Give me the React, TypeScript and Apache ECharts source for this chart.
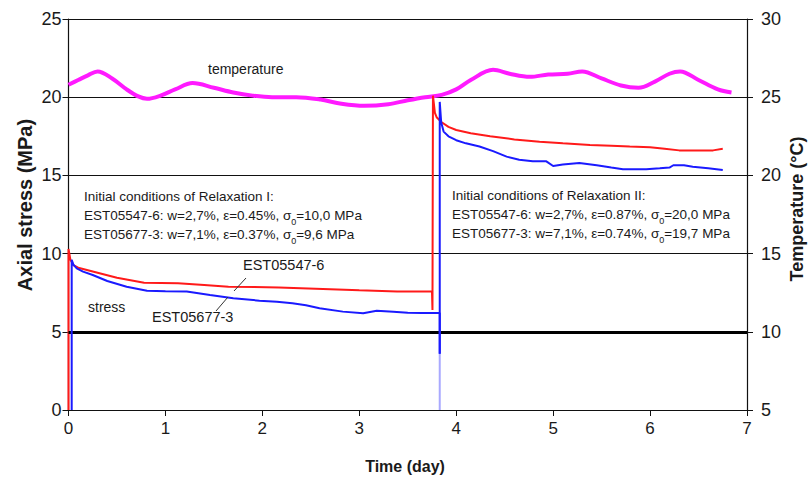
import React, { useEffect, useRef } from "react";
import * as echarts from "echarts";

// ---- axes ----
const timeRange = [0, 7];
const stressRange = [0, 25];
const tempRange = [5, 30];
const tickStep = [1, 5, 5];

// ---- temperature (°C) vs time (day) ----
const temperature: [number, number][] = [
  [0, 25.8], [0.1, 26.1], [0.2, 26.4], [0.3, 26.65], [0.45, 26.2], [0.6, 25.5],
  [0.72, 25.05], [0.81, 24.9], [0.95, 25.1], [1.1, 25.5], [1.28, 25.9], [1.5, 25.6],
  [1.7, 25.3], [1.9, 25.1], [2.1, 25.0], [2.35, 25.0], [2.6, 24.85], [2.8, 24.6],
  [3.05, 24.45], [3.3, 24.55], [3.5, 24.8], [3.68, 25.0], [3.85, 25.15], [4.0, 25.5],
  [4.15, 26.1], [4.38, 26.75], [4.55, 26.5], [4.76, 26.3], [4.95, 26.45], [5.15, 26.5],
  [5.3, 26.65], [5.5, 26.2], [5.7, 25.75], [5.88, 25.6], [6.05, 26.0], [6.2, 26.5],
  [6.31, 26.65], [6.5, 26.1], [6.7, 25.5], [6.84, 25.3],
];

// ---- EST05547-6 axial stress (MPa) ----
const est05547: [number, number][] = [
  [0, 0], [0, 10.3], [0.02, 9.6], [0.05, 9.27], [0.1, 9.1], [0.26, 8.84], [0.5, 8.45],
  [0.78, 8.14], [1.13, 8.1], [1.4, 8.0], [1.65, 7.88], [2.17, 7.84], [2.7, 7.72],
  [3.0, 7.65], [3.39, 7.57], [3.75, 7.57], [3.755, 6.4], [3.76, 20.1], [3.78, 19.0],
  [3.8, 18.7], [3.85, 18.4], [3.92, 18.1], [4.0, 17.9], [4.15, 17.7], [4.35, 17.5],
  [4.6, 17.3], [4.86, 17.15], [5.1, 17.05], [5.38, 16.95], [5.6, 16.9], [5.79, 16.85],
  [6.0, 16.8], [6.15, 16.7], [6.3, 16.6], [6.5, 16.6], [6.65, 16.6], [6.75, 16.7],
];

// ---- EST05677-3 axial stress (MPa) ----
const est05677: [number, number][] = [
  [0.033, 0], [0.033, 9.6], [0.05, 9.3], [0.085, 9.05], [0.15, 8.85], [0.25, 8.63],
  [0.4, 8.25], [0.6, 7.88], [0.81, 7.63], [1.0, 7.6], [1.22, 7.57], [1.46, 7.35],
  [1.7, 7.14], [1.97, 6.99], [2.15, 6.92], [2.31, 6.82], [2.45, 6.7], [2.59, 6.5],
  [2.83, 6.29], [3.04, 6.18], [3.18, 6.35], [3.35, 6.28], [3.5, 6.22], [3.65, 6.2],
  [3.83, 6.2], [3.83, 3.6],
];
const est05677Unload: [number, number][] = [[3.83, 3.6], [3.83, 0]];
const est05677Relax2: [number, number][] = [
  [3.83, 3.6], [3.83, 19.7], [3.845, 18.4], [3.87, 17.8], [3.92, 17.5], [4.0, 17.25],
  [4.1, 17.05], [4.24, 16.85], [4.38, 16.55], [4.52, 16.2], [4.65, 16.0], [4.79, 15.9],
  [4.93, 15.9], [5.0, 15.6], [5.1, 15.7], [5.27, 15.8], [5.45, 15.65], [5.6, 15.5],
  [5.72, 15.4], [5.96, 15.4], [6.1, 15.45], [6.2, 15.5], [6.24, 15.65], [6.35, 15.65],
  [6.44, 15.55], [6.6, 15.45], [6.75, 15.35],
];

const referenceLine = 5;

const relaxI = [
  "Initial conditions of Relaxation I:",
  "EST05547-6: w=2,7%, ε=0.45%, σ{sub|0}=10,0 MPa",
  "EST05677-3: w=7,1%, ε=0.37%, σ{sub|0}=9,6 MPa",
];
const relaxII = [
  "Initial conditions of Relaxation II:",
  "EST05547-6: w=2,7%, ε=0.87%, σ{sub|0}=20,0 MPa",
  "EST05677-3: w=7,1%, ε=0.74%, σ{sub|0}=19,7 MPa",
];

const FONT = "'Liberation Sans', Arial, sans-serif";
const TXT = "#1a1a1a";

export default function App() {
  const ref = useRef<HTMLDivElement>(null);
  useEffect(() => {
    if (!ref.current) return;
    const chart = echarts.init(ref.current, undefined, { renderer: "svg" });
    const annoText = (x: number, y: number, text: string, size = 13.5) => ({
      type: "text",
      x,
      y,
      style: {
        text,
        fill: TXT,
        font: `${size}px ${FONT}`,
        verticalAlign: "middle",
        align: "left",
        rich: {
          sub: { fontSize: 9, fontFamily: FONT, fill: TXT, verticalAlign: "bottom", padding: [0, 0, -4, 0] },
        },
      },
      z: 100,
    });
    const graphics: any[] = [
      annoText(208, 69, "temperature", 14),
      annoText(88, 307, "stress", 14),
      annoText(243, 265, "EST05547-6", 14.5),
      annoText(152, 317, "EST05677-3", 14.5),
      { type: "line", shape: { x1: 246, y1: 278, x2: 234, y2: 291 }, style: { stroke: "#333", lineWidth: 1 }, z: 100 },
      { type: "line", shape: { x1: 228, y1: 297, x2: 216, y2: 311 }, style: { stroke: "#333", lineWidth: 1 }, z: 100 },
      ...relaxI.map((t, i) => annoText(84, 196 + i * 19, t)),
      ...relaxII.map((t, i) => annoText(452, 195 + i * 19, t)),
      {
        type: "text", x: 25, y: 205, rotation: Math.PI / 2,
        style: { text: "Axial stress (MPa)", fill: TXT, font: `bold 20px ${FONT}`, align: "center", verticalAlign: "middle" },
      },
      {
        type: "text", x: 797, y: 209, rotation: Math.PI / 2,
        style: { text: "Temperature (°C)", fill: TXT, font: `bold 18px ${FONT}`, align: "center", verticalAlign: "middle" },
      },
      {
        type: "text", x: 405, y: 466,
        style: { text: "Time (day)", fill: TXT, font: `bold 16px ${FONT}`, align: "center", verticalAlign: "middle" },
      },
    ];
    chart.setOption({
      animation: false,
      backgroundColor: "#fff",
      grid: { left: 68.5, right: 63, top: 19, bottom: 69 },
      xAxis: {
        type: "value",
        min: timeRange[0],
        max: timeRange[1],
        interval: tickStep[0],
        axisLine: { show: true, lineStyle: { color: "#111", width: 1.2 } },
        axisTick: { show: true, inside: false, length: 6, lineStyle: { color: "#111" } },
        axisLabel: { color: TXT, fontSize: 17, fontFamily: FONT, margin: 10 },
        splitLine: { show: false },
      },
      yAxis: [
        {
          type: "value",
          min: stressRange[0],
          max: stressRange[1],
          interval: tickStep[1],
          axisLine: { show: true, lineStyle: { color: "#111", width: 1.2 } },
          axisTick: { show: true, inside: false, length: 6, lineStyle: { color: "#111" } },
          axisLabel: { color: TXT, fontSize: 18, fontFamily: FONT, margin: 7 },
          splitLine: { show: true, lineStyle: { color: "#111", width: 1.2 } },
        },
        {
          type: "value",
          position: "right",
          min: tempRange[0],
          max: tempRange[1],
          interval: tickStep[2],
          axisLine: { show: true, lineStyle: { color: "#111", width: 1.2 } },
          axisTick: { show: true, inside: false, length: 6, lineStyle: { color: "#111" } },
          axisLabel: { color: TXT, fontSize: 18, fontFamily: FONT, margin: 14 },
          splitLine: { show: false },
        },
      ],
      series: [
        {
          name: "temperature",
          type: "line",
          yAxisIndex: 1,
          data: temperature,
          smooth: 0.35,
          showSymbol: false,
          lineStyle: { color: "#ff1aff", width: 4 },
          z: 3,
        },
        {
          name: "EST05547-6",
          type: "line",
          data: est05547,
          showSymbol: false,
          lineStyle: { color: "#ff1a1a", width: 2 },
          markLine: {
            silent: true,
            symbol: "none",
            label: { show: false },
            lineStyle: { color: "#000", width: 3, type: "solid" },
            data: [{ yAxis: referenceLine }],
          },
          z: 4,
        },
        {
          name: "EST05677-3 unload",
          type: "line",
          data: est05677Unload,
          showSymbol: false,
          lineStyle: { color: "#a9a9ff", width: 2 },
          z: 4,
        },
        {
          name: "EST05677-3",
          type: "line",
          data: est05677,
          showSymbol: false,
          lineStyle: { color: "#1a1aff", width: 2 },
          z: 5,
        },
        {
          name: "EST05677-3 relaxation II",
          type: "line",
          data: est05677Relax2,
          showSymbol: false,
          lineStyle: { color: "#1a1aff", width: 2 },
          z: 5,
        },
      ],
      graphic: graphics,
    });
    return () => chart.dispose();
  }, []);
  return <div ref={ref} style={{ position: "absolute", left: 0, top: 0, width: 810, height: 479 }} />;
}
